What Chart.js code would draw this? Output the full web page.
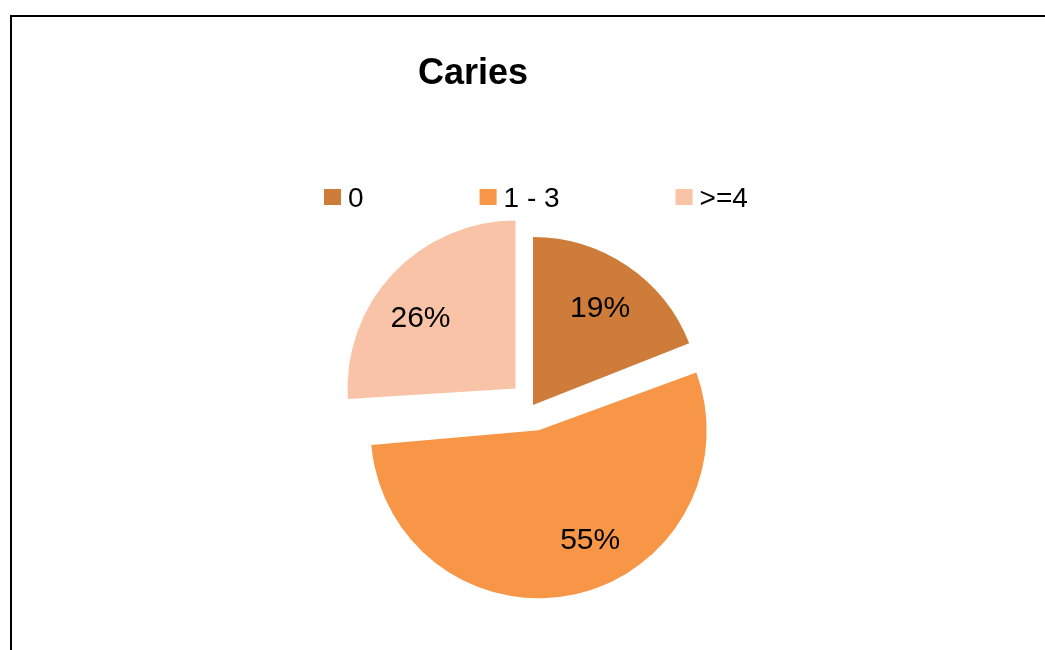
<!DOCTYPE html>
<html>
<head>
<meta charset="utf-8">
<title>Caries</title>
<script src="https://cdn.jsdelivr.net/npm/chart.js@4/dist/chart.umd.min.js"></script>
<style>
    html, body { margin: 0; padding: 0; background: #fff; overflow: hidden; }
    #wrap { position: relative; width: 1045px; height: 650px; }
    #frame {
        position: absolute; left: 10px; top: 15px;
        width: 1100px; height: 700px;
        border: 2px solid #000; box-sizing: border-box;
    }
    #chart { position: absolute; left: 0; top: 0; }
</style>
</head>
<body>
<div id="wrap">
    <div id="frame"></div>
    <canvas id="chart" width="1045" height="650"></canvas>
</div>
<script>
// Caries groups and their share of patients (%)
const groups = ['0', '1 - 3', '>=4'];
const shares = [19, 55, 26];
const sliceColors = ['#CD7C3A', '#F79646', '#F9C3A7'];

const FONT = '"Liberation Sans", Arial, sans-serif';
const PIE_RADIUS = 168;

// Chart.js grows an exploded slice wider than a half circle by its offset;
// take that back off so every slice keeps the same radius
const keepRadius = {
    id: 'keepRadius',
    afterDatasetUpdate(chart, args) {
        args.meta.data.forEach(arc => {
            const shift = (arc.options.offset || 0) / 4;
            const sweep = arc.endAngle - arc.startAngle;
            arc.outerRadius = PIE_RADIUS - shift * (1 - Math.sin(Math.min(Math.PI, sweep)));
        });
    }
};

// title, legend row and percentage labels drawn on top of the pie
const decorations = {
    id: 'decorations',
    afterDraw(chart) {
        const ctx = chart.ctx;
        ctx.save();
        ctx.fillStyle = '#000';
        ctx.textBaseline = 'alphabetic';

        // title
        ctx.font = 'bold 36px ' + FONT;
        ctx.textAlign = 'center';
        ctx.fillText('Caries', 473, 84);

        // legend
        ctx.font = '28px ' + FONT;
        ctx.textAlign = 'left';
        let x = 324;
        groups.forEach((g, i) => {
            ctx.fillStyle = sliceColors[i];
            ctx.fillRect(x, 189, 17, 16);
            ctx.fillStyle = '#000';
            ctx.fillText(g, x + 24, 207);
            x += 24 + ctx.measureText(g).width + 116;
        });

        // value labels inside each slice (arc.x/y is the pie centre, so add the slice's own offset)
        const nudge = [0, -13, -6]; // degrees, keeps labels clear of the edges
        ctx.font = '30px ' + FONT;
        ctx.textAlign = 'center';
        chart.getDatasetMeta(0).data.forEach((arc, i) => {
            const half = (arc.startAngle + arc.endAngle) / 2;
            const shift = (arc.options.offset || 0) / 4;
            const cx = arc.x + Math.cos(half) * shift;
            const cy = arc.y + Math.sin(half) * shift;
            const mid = half + nudge[i] * Math.PI / 180;
            const r = PIE_RADIUS * 0.71;
            ctx.fillText(shares[i] + '%', cx + Math.cos(mid) * r, cy + Math.sin(mid) * r + 11);
        });
        ctx.restore();
    }
};

new Chart(document.getElementById('chart'), {
    type: 'pie',
    data: {
        labels: groups,
        datasets: [{
            data: shares,
            backgroundColor: sliceColors,
            borderWidth: 0,
            // the arc element moves a slice out by offset / 4 pixels
            offset: [0, 104, 96]
        }]
    },
    options: {
        responsive: false,
        animation: false,
        radius: PIE_RADIUS,
        layout: { padding: { left: 365, right: 344, top: 237, bottom: 77 } },
        plugins: {
            legend: { display: false },
            title: { display: false },
            tooltip: { enabled: false }
        }
    },
    plugins: [keepRadius, decorations]
});
</script>
</body>
</html>
